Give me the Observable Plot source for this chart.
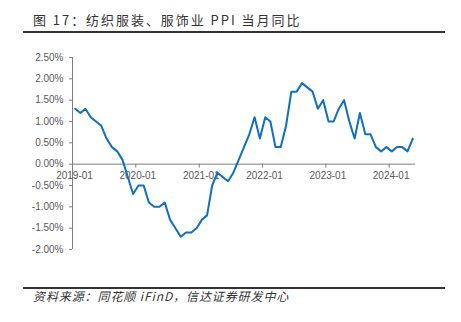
<!DOCTYPE html>
<html>
<head>
<meta charset="utf-8">
<script src="https://cdn.jsdelivr.net/npm/d3@7"></script>
<script src="https://cdn.jsdelivr.net/npm/@observablehq/plot@0.6"></script>
<style>
  html, body { margin: 0; padding: 0; background: #fff; }
  #wrap { position: relative; width: 461px; height: 322px; overflow: hidden; font-family: "Liberation Sans", Arial, sans-serif; }
  #title { position: absolute; left: 33px; top: 11px; font-family: "Noto Sans CJK SC", "Liberation Sans", sans-serif; font-size: 13px; line-height: 18px; letter-spacing: 1.95px; color: #333; white-space: nowrap; }
  #rule-top { position: absolute; left: 23px; width: 422px; top: 31px; height: 2px; background: #333; }
  #rule-bot { position: absolute; left: 23px; width: 422px; top: 287px; height: 2px; background: #333; }
  #source { position: absolute; left: 33px; top: 288px; font-family: "Noto Sans CJK SC", "Liberation Sans", sans-serif; font-size: 12px; line-height: 16px; letter-spacing: 0.9px; font-style: italic; color: #333; white-space: nowrap; }
  #chart { position: absolute; left: 0; top: 0; }
</style>
</head>
<body>
<div id="wrap">
  <div id="chart"></div>
  <div id="title">图 17：纺织服装、服饰业 PPI 当月同比</div>
  <div id="rule-top"></div>
  <div id="rule-bot"></div>
  <div id="source">资料来源：同花顺 iFinD，信达证券研发中心</div>
</div>
<script>
// Monthly data, 2019-01 .. 2024-05 (PPI yoy, %)
const startMonth = "2019-01";
const values = [
  1.3, 1.2, 1.3, 1.1, 1.0, 0.9, 0.6, 0.4, 0.3, 0.1, -0.3, -0.7,   // 2019
  -0.5, -0.5, -0.9, -1.0, -1.0, -0.9, -1.3, -1.5, -1.7, -1.6, -1.6, -1.5, // 2020
  -1.3, -1.2, -0.5, -0.2, -0.3, -0.4, -0.2, 0.1, 0.4, 0.7, 1.1, 0.6, // 2021
  1.1, 1.0, 0.4, 0.4, 0.9, 1.7, 1.7, 1.9, 1.8, 1.7, 1.3, 1.5,   // 2022
  1.0, 1.0, 1.3, 1.5, 1.0, 0.6, 1.2, 0.7, 0.7, 0.4, 0.3, 0.4,   // 2023
  0.3, 0.4, 0.4, 0.3, 0.6                                        // 2024
];
const xTickLabels = ["2019-01", "2020-01", "2021-01", "2022-01", "2023-01", "2024-01"];
const yTicks = [-2, -1.5, -1, -0.5, 0, 0.5, 1, 1.5, 2, 2.5];

const parseMonth = d3.utcParse("%Y-%m");
const t0 = parseMonth(startMonth);
const data = values.map((v, i) => {
  const m = d3.utcMonth.offset(t0, i);
  const mid = new Date((m.getTime() + d3.utcMonth.offset(m, 1).getTime()) / 2);
  return { date: mid, value: v };
});
const xEnd = d3.utcMonth.offset(t0, values.length);
const tickDates = xTickLabels.map(parseMonth);

const axisColor = "#7f7f7f";
const textColor = "#595959";
const tickLen = 4 * (2.5 - -2) / 192; // ~4px in data units

const chart = Plot.plot({
  width: 461,
  height: 322,
  marginLeft: 72,
  marginRight: 46,
  marginTop: 57,
  marginBottom: 73,
  style: { fontFamily: "Liberation Sans, Arial, sans-serif", fontSize: "10px", background: "transparent" },
  x: { type: "utc", domain: [t0, xEnd], axis: null },
  y: { domain: [-2, 2.5], axis: null },
  marks: [
    Plot.axisY(yTicks, {
      anchor: "left",
      tickSize: 3,
      tickPadding: 6,
      stroke: axisColor,
      color: textColor,
      fill: textColor,
      tickFormat: d => d.toFixed(2) + "%",
      label: null
    }),
    Plot.ruleX([t0], { y1: -2, y2: 2.5, stroke: axisColor, strokeWidth: 1 }),
    Plot.ruleY([0], { x1: t0, x2: xEnd, stroke: axisColor, strokeWidth: 1 }),
    Plot.ruleX(tickDates, { x: d => d, y1: 0, y2: -tickLen, stroke: axisColor }),
    Plot.text(tickDates, {
      x: d => d, y: 0, dy: 12, dx: 2,
      text: (d, i) => xTickLabels[i],
      fill: textColor, fontSize: 10
    }),
    Plot.line(data, { x: "date", y: "value", stroke: "#0f6fc1", strokeWidth: 2, curve: "linear" })
  ]
});
document.getElementById("chart").appendChild(chart);
</script>
</body>
</html>
